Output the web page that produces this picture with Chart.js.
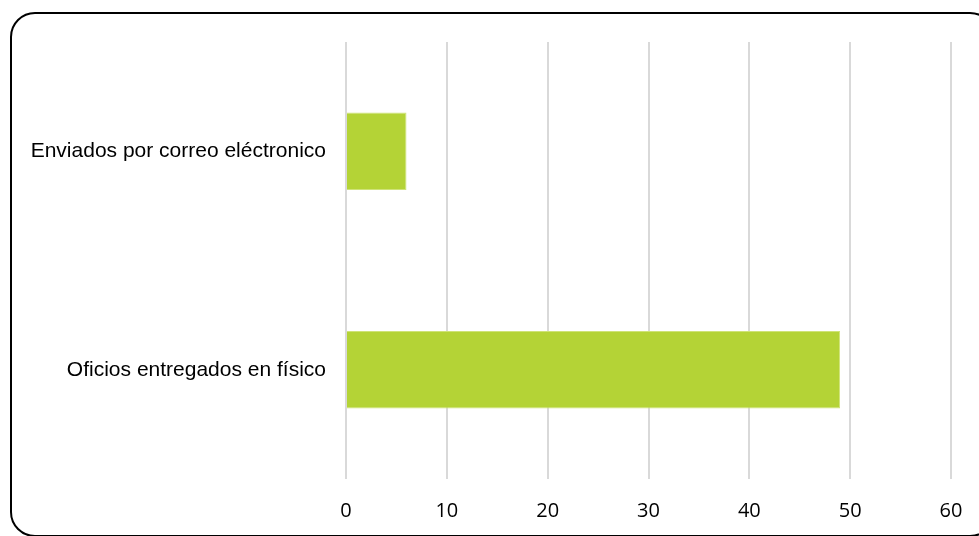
<!DOCTYPE html>
<html>
<head>
<meta charset="utf-8">
<script src="https://cdn.jsdelivr.net/npm/chart.js@4.4.1/dist/chart.umd.min.js"></script>
<style>
  html, body { margin: 0; padding: 0; background: #fff; overflow: hidden; }
  #wrap { position: relative; width: 979px; height: 536px; }
  #frame {
    position: absolute; left: 10px; top: 12px; width: 985px; height: 525px;
    border: 2px solid #000; border-radius: 25px; box-sizing: border-box;
  }
  canvas { position: absolute; left: 0; top: 0; }
</style>
</head>
<body>
<div id="wrap">
  <div id="frame"></div>
  <canvas id="c" width="979" height="536"></canvas>
</div>
<script>
// Categories and values.
const categories = ["Enviados por correo eléctronico", "Oficios entregados en físico"];
const values = [6, 49];
const xTicks = [0, 10, 20, 30, 40, 50, 60];

const GRID = "#d9d9d9";
const BAR = "#b4d336";

new Chart(document.getElementById("c"), {
  type: "bar",
  data: {
    labels: categories,
    datasets: [
      {
        data: values,
        backgroundColor: BAR,
        borderColor: "#cfe377",
        borderWidth: 1,
        categoryPercentage: 1,
        barPercentage: 0.355,
      },
    ],
  },
  options: {
    indexAxis: "y",
    responsive: false,
    animation: false,
    devicePixelRatio: 1,
    layout: { padding: { left: 0, right: 28, top: 42, bottom: 0 } },
    plugins: { legend: { display: false }, tooltip: { enabled: false } },
    scales: {
      x: {
        min: xTicks[0],
        max: xTicks[xTicks.length - 1],
        ticks: {
          stepSize: 10,
          padding: 20,
          color: "#000",
          font: { family: '"Open Sans", sans-serif', size: 20 },
        },
        grid: { color: GRID, lineWidth: 2, drawTicks: false },
        border: { display: false },
        afterFit: (scale) => {
          scale.height = 57;
          scale.paddingLeft = 0;
          scale.paddingRight = 0;
        },
      },
      y: {
        ticks: {
          padding: 20,
          color: "#000",
          font: { family: '"Liberation Sans", Arial, sans-serif', size: 21 },
        },
        grid: { display: false, drawTicks: false },
        border: { display: false },
        afterFit: (scale) => { scale.width = 346; },
      },
    },
  },
});
</script>
</body>
</html>
